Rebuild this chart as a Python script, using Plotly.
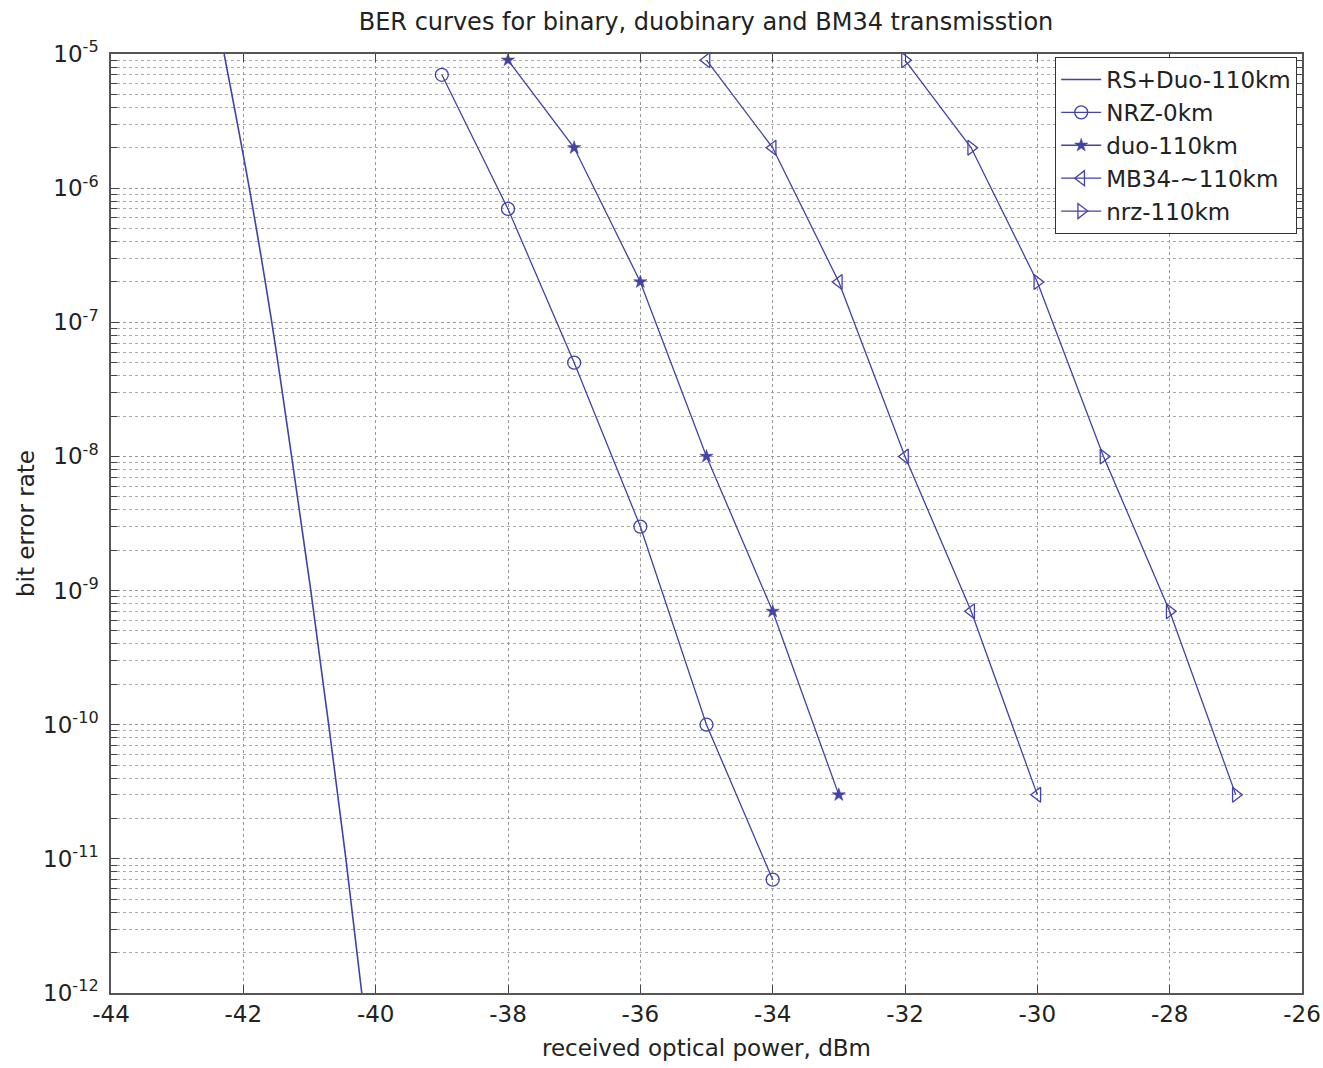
import plotly.graph_objects as go

# ---- data ----
rs_duo_x = [-42.29, -41.91, -41.57, -41.27, -40.98, -40.71, -40.45, -40.21]
rs_duo_y = [1e-5, 1e-6, 1e-7, 1e-8, 1e-9, 1e-10, 1e-11, 1e-12]

nrz0_x = [-39, -38, -37, -36, -35, -34]
nrz0_y = [7e-6, 7e-7, 5e-8, 3e-9, 1e-10, 7e-12]

duo110_x = [-38, -37, -36, -35, -34, -33]
duo110_y = [9e-6, 2e-6, 2e-7, 1e-8, 7e-10, 3e-11]

mb34_x = [-35, -34, -33, -32, -31, -30]
mb34_y = [9e-6, 2e-6, 2e-7, 1e-8, 7e-10, 3e-11]

nrz110_x = [-32, -31, -30, -29, -28, -27]
nrz110_y = [9e-6, 2e-6, 2e-7, 1e-8, 7e-10, 3e-11]

y_tickvals = [1e-5, 1e-6, 1e-7, 1e-8, 1e-9, 1e-10, 1e-11, 1e-12]
y_ticktext = ["10<sup>-5</sup>", "10<sup>-6</sup>", "10<sup>-7</sup>", "10<sup>-8</sup>",
              "10<sup>-9</sup>", "10<sup>-10</sup>", "10<sup>-11</sup>", "10<sup>-12</sup>"]
x_tickvals = [-44, -42, -40, -38, -36, -34, -32, -30, -28, -26]
x_ticktext = ["-44", "-42", "-40", "-38", "-36", "-34", "-32", "-30", "-28", "-26"]

COLOR = "rgb(66,66,168)"
FONT = "DejaVu Sans, Liberation Sans, Arial, sans-serif"
TXT = "#222"

W, H = 1323, 1068

fig = go.Figure()
fig.add_trace(go.Scatter(x=rs_duo_x, y=rs_duo_y, mode="lines", name="RS+Duo-110km",
                         line=dict(color=COLOR, width=1.6, shape="spline")))
fig.add_trace(go.Scatter(x=nrz0_x, y=nrz0_y, mode="lines+markers", name="NRZ-0km",
                         line=dict(color=COLOR, width=1.3),
                         marker=dict(symbol="circle-open", size=13, color=COLOR, line=dict(width=1.3))))
fig.add_trace(go.Scatter(x=duo110_x, y=duo110_y, mode="lines+markers", name="duo-110km",
                         line=dict(color=COLOR, width=1.3),
                         marker=dict(symbol="star", size=10, color=COLOR, line=dict(width=0.5, color=COLOR))))
fig.add_trace(go.Scatter(x=mb34_x, y=mb34_y, mode="lines+markers", name="MB34-~110km",
                         line=dict(color=COLOR, width=1.3),
                         marker=dict(symbol="triangle-left-open", size=13, color=COLOR, line=dict(width=1.3))))
fig.add_trace(go.Scatter(x=nrz110_x, y=nrz110_y, mode="lines+markers", name="nrz-110km",
                         line=dict(color=COLOR, width=1.3),
                         marker=dict(symbol="triangle-right-open", size=13, color=COLOR, line=dict(width=1.3))))

fig.update_layout(
    width=W, height=H,
    margin=dict(l=111, r=21, t=54, b=75),
    paper_bgcolor="white", plot_bgcolor="white",
    font=dict(family=FONT, size=23, color=TXT),
    title=dict(text="BER curves for binary, duobinary and BM34 transmisstion",
               x=706 / W, xanchor="center", y=1 - 22 / H, yanchor="middle",
               font=dict(size=24, family=FONT, color=TXT)),
    showlegend=True,
    legend=dict(x=0.9958, y=0.997, xanchor="right", yanchor="top",
                bgcolor="white", bordercolor="#333", borderwidth=1.2,
                font=dict(size=23, family=FONT, color=TXT),
                itemwidth=40, tracegroupgap=0),
)

fig.update_xaxes(
    range=[-44, -26], tickvals=x_tickvals, ticktext=x_ticktext,
    ticks="inside", ticklen=8, tickcolor="#444",
    showline=True, linecolor="#555", linewidth=1.5, mirror="allticks",
    showgrid=True, gridcolor="#999", griddash="dot", gridwidth=1,
    zeroline=False, automargin=False, tickfont=dict(size=23, family=FONT, color=TXT),
    title=dict(text="received optical power, dBm", font=dict(size=23, family=FONT, color=TXT), standoff=14),
)
fig.update_yaxes(
    type="log", range=[-12, -5], tickvals=y_tickvals, ticktext=y_ticktext,
    ticks="inside", ticklen=8, tickcolor="#444", ticklabelstandoff=6,
    showline=True, linecolor="#555", linewidth=1.5, mirror="allticks",
    showgrid=True, gridcolor="#999", griddash="dot", gridwidth=1,
    zeroline=False, automargin=False, tickfont=dict(size=23, family=FONT, color=TXT),
    minor=dict(dtick="D1", ticks="inside", ticklen=6, tickcolor="#444",
               showgrid=True, gridcolor="#aaa", griddash="dot", gridwidth=1),
    title=dict(text="bit error rate", font=dict(size=23, family=FONT, color=TXT), standoff=2),
)

fig.write_html("out.html", config={"displayModeBar": False},
               post_script="document.body.style.margin='0px';")
